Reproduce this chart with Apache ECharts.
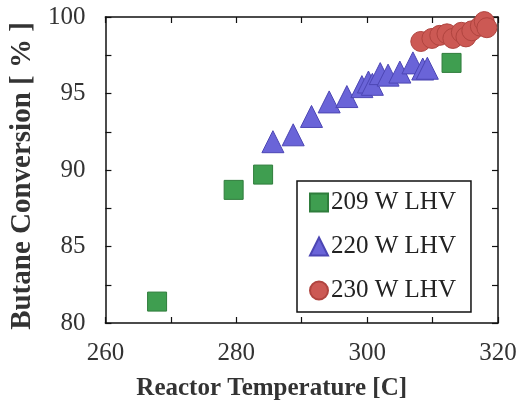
<!DOCTYPE html>
<html>
<head>
<meta charset="UTF-8">
<title></title>
<script src="https://cdn.jsdelivr.net/npm/echarts@6/dist/echarts.min.js"></script>
<style>
  html, body { margin: 0; padding: 0; background: #fff; }
  #chart { width: 522px; height: 406px; }
</style>
</head>
<body>
<div id="chart"></div>
<script>
// 209 W LHV
var sqT = [267.9, 279.6, 284.1, 312.9];
var sqC = [81.4, 88.7, 89.7, 97.0];
// 220 W LHV
var triT = [285.6, 288.7, 291.5, 294.2, 296.9, 299.2, 300.2, 300.8, 302.0, 303.2, 305.0, 307.0, 308.5, 309.2];
var triC = [91.85, 92.3, 93.5, 94.45, 94.8, 95.45, 95.75, 95.6, 96.3, 96.2, 96.4, 97.0, 96.6, 96.65];
// 230 W LHV
var cirT = [308.2, 309.9, 311.1, 312.2, 313.1, 314.4, 315.1, 316.0, 317.3, 317.9, 318.3];
var cirC = [98.4, 98.6, 98.8, 98.9, 98.6, 99.0, 98.7, 99.1, 99.4, 99.7, 99.3];

var names = ['209 W LHV', '220 W LHV', '230 W LHV'];

function pairs(xs, ys) {
    var out = [];
    for (var i = 0; i < xs.length; i++) out.push([xs[i], ys[i]]);
    return out;
}

var font = '"Liberation Serif", "DejaVu Serif", serif';
var tickStyle = { show: true, inside: true, length: 6, lineStyle: { color: '#111', width: 1.2 } };
var lineStyle = { show: true, lineStyle: { color: '#111', width: 1.5 } };

var chart = echarts.init(document.getElementById('chart'));
chart.setOption({
    backgroundColor: '#fff',
    animation: false,
    grid: { left: 105, right: 24, top: 17, bottom: 81 },
    legend: {
        orient: 'vertical',
        left: 297, top: 181,
        backgroundColor: '#fff',
        borderColor: '#111', borderWidth: 1.5, borderRadius: 0,
        padding: [9, 15, 9, 12],
        itemGap: 19, itemWidth: 18, itemHeight: 18,
        textStyle: { fontFamily: font, fontSize: 25, color: '#222', padding: [0, 0, 0, -2] },
        data: [
            { name: names[0], icon: 'rect' },
            { name: names[1], icon: 'triangle' },
            { name: names[2], icon: 'circle' }
        ]
    },
    xAxis: [{
        type: 'value', min: 260, max: 320, interval: 10,
        name: 'Reactor Temperature [C]', nameLocation: 'middle', nameGap: 53,
        nameTextStyle: { fontFamily: font, fontSize: 25, fontWeight: 'bold', color: '#333', padding: [0, 60, 0, 0] },
        axisLine: lineStyle, axisTick: tickStyle, splitLine: { show: false },
        axisLabel: {
            margin: 18, fontFamily: font, fontSize: 25, color: '#333',
            formatter: function (v) { return v % 20 === 0 ? String(v) : ''; }
        }
    }, {
        type: 'value', position: 'top', min: 260, max: 320, interval: 10,
        axisLine: lineStyle, axisTick: tickStyle, axisLabel: { show: false }, splitLine: { show: false }
    }],
    yAxis: [{
        type: 'value', min: 80, max: 100, interval: 2.5,
        name: 'Butane Conversion [ % ]', nameLocation: 'middle', nameGap: 66, nameRotate: 90,
        nameTextStyle: { fontFamily: font, fontSize: 29, fontWeight: 'bold', color: '#333', padding: [0, 12, 0, 0] },
        axisLine: lineStyle, axisTick: tickStyle, splitLine: { show: false },
        axisLabel: {
            margin: 20, fontFamily: font, fontSize: 25, color: '#333',
            formatter: function (v) { return v % 5 === 0 ? String(v) : ''; }
        }
    }, {
        type: 'value', position: 'right', min: 80, max: 100, interval: 2.5,
        axisLine: lineStyle, axisTick: tickStyle, axisLabel: { show: false }, splitLine: { show: false }
    }],
    series: [{
        name: names[0], type: 'scatter', symbol: 'rect', symbolSize: 19,
        itemStyle: { color: '#3f9e50', borderColor: '#2f7d3c', borderWidth: 1, opacity: 1 },
        data: pairs(sqT, sqC), z: 2
    }, {
        name: names[1], type: 'scatter', symbol: 'triangle', symbolSize: 22,
        itemStyle: { color: '#6a64d8', borderColor: '#4c46b4', borderWidth: 1, opacity: 1 },
        data: pairs(triT, triC), z: 3
    }, {
        name: names[2], type: 'scatter', symbol: 'circle', symbolSize: 20,
        itemStyle: { color: '#cc5954', borderColor: '#b0443f', borderWidth: 1, opacity: 1 },
        data: pairs(cirT, cirC), z: 4
    }]
});
</script>
</body>
</html>
